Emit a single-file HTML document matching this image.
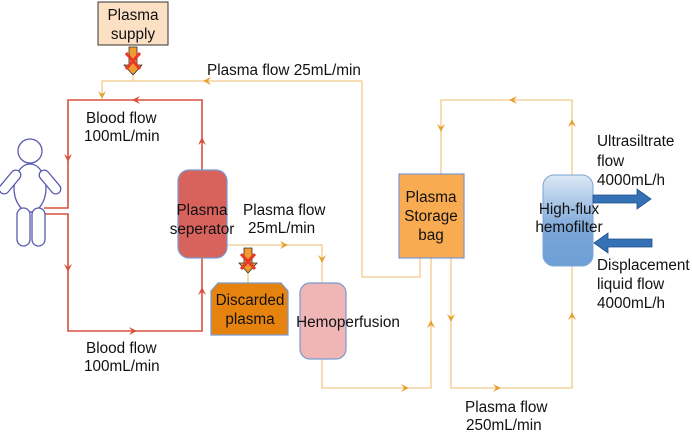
<!DOCTYPE html>
<html><head><style>body{margin:0;background:#fff}svg{display:block}text{font-family:"Liberation Sans",sans-serif;font-size:15.3px;fill:#111}</style></head><body>
<svg width="692" height="434" viewBox="0 0 692 434">
<defs>
<linearGradient id="hf" x1="0" y1="0" x2="0" y2="1"><stop offset="0" stop-color="#dce8f6"/><stop offset="0.6" stop-color="#7aa6d8"/><stop offset="1" stop-color="#6f9fd6"/></linearGradient>
</defs>
<g stroke="#f3c98a" stroke-width="1.3" fill="none">
<polyline points="133,76 133,81"/>
<polyline points="362,81 102,81 102,95"/>
<polyline points="362,81 362,277 420,277 420,258"/>
<polyline points="227,245 322,245 322,283"/>
<polyline points="248,272 248,283"/>
<polyline points="322,359 322,388 431,388 431,258"/>
<polyline points="451,258 451,388 572,388 572,266"/>
<polyline points="572,175 572,100 441,100 441,174"/>
</g>
<g fill="#e5a230">
<path d="M102,99 l-4,-8 l4,3 l4,-3z"/>
<path d="M203,81 l8,-4 l-3,4 l3,4z"/>
<path d="M288,245 l-8,-4 l3,4 l-3,4z"/>
<path d="M322,263 l-4,-8 l4,3 l4,-3z"/>
<path d="M441,132 l-4,-8 l4,3 l4,-3z"/>
<path d="M509,100 l8,-4 l-3,4 l3,4z"/>
<path d="M572,119 l-4,8 l4,-3 l4,3z"/>
<path d="M572,312 l-4,8 l4,-3 l4,3z"/>
<path d="M451,322 l-4,-8 l4,3 l4,-3z"/>
<path d="M431,320 l-4,8 l4,-3 l4,3z"/>
<path d="M501,388 l-8,-4 l3,4 l-3,4z"/>
<path d="M409,388 l-8,-4 l3,4 l-3,4z"/>
</g>
<g stroke="#d9503f" stroke-width="1.6" fill="none">
<polyline points="202,170 202,100 68,100 68,208 44,208"/>
<polyline points="44,214 68,214 68,331 202,331 202,258"/>
</g>
<g fill="#d9503f">
<path d="M68,162 l-4,-8 l4,3 l4,-3z"/>
<path d="M68,272 l-4,-8 l4,3 l4,-3z"/>
<path d="M132,100 l8,-4 l-3,4 l3,4z"/>
<path d="M137,331 l-8,-4 l3,4 l-3,4z"/>
<path d="M202,137 l-4,8 l4,-3 l4,3z"/>
<path d="M202,287 l-4,8 l4,-3 l4,3z"/>
</g>
<g stroke="#5a5ab0" stroke-width="1.3" fill="#fff">
<circle cx="30" cy="151" r="12"/>
<ellipse cx="30" cy="188" rx="16" ry="24"/>
<rect x="5" y="168" width="10" height="28" rx="5" transform="rotate(40 10 182)"/>
<rect x="45" y="168" width="10" height="28" rx="5" transform="rotate(-40 50 182)"/>
<rect x="17" y="208" width="13" height="38" rx="6.5"/>
<rect x="32" y="208" width="13" height="38" rx="6.5"/>
</g>
<rect x="98" y="2" width="70" height="43" fill="#fbe0c4" stroke="#333" stroke-width="1"/>
<text x="133" y="20" text-anchor="middle">Plasma</text>
<text x="133" y="39" text-anchor="middle">supply</text>
<path d="M129,47 h8 v18 h5 l-9,10 l-9,-10 h5z" fill="#f29a2e" stroke="#333" stroke-width="0.8"/>
<path d="M126,53 l14,16 M140,53 l-14,16" stroke="#e53a2a" stroke-width="3"/>
<path d="M244,248 h8 v15 h5 l-9,10 l-9,-10 h5z" fill="#f29a2e" stroke="#333" stroke-width="0.8"/>
<path d="M241,254 l14,15 M255,254 l-14,15" stroke="#e53a2a" stroke-width="3"/>
<rect x="178" y="170" width="49" height="88" rx="11" fill="#d8625c" stroke="#7a9ad0" stroke-width="1.2"/>
<text x="202" y="215" text-anchor="middle">Plasma</text>
<text x="202" y="234" text-anchor="middle">seperator</text>
<path d="M218,283 h63 l7,8 v44 h-77 v-44z" fill="#e6830f" stroke="#7a9ad0" stroke-width="1.2"/>
<text x="250" y="305" text-anchor="middle">Discarded</text>
<text x="250" y="324" text-anchor="middle">plasma</text>
<rect x="300" y="283" width="46" height="76" rx="10" fill="#f0b5b5" stroke="#7a9ad0" stroke-width="1.2"/>
<text x="348" y="327" text-anchor="middle">Hemoperfusion</text>
<rect x="399" y="174" width="65" height="84" fill="#f9ab52" stroke="#7a9ad0" stroke-width="1.2"/>
<text x="431" y="202" text-anchor="middle">Plasma</text>
<text x="431" y="221" text-anchor="middle">Storage</text>
<text x="431" y="240" text-anchor="middle">bag</text>
<rect x="543" y="175" width="50" height="91" rx="11" fill="url(#hf)" stroke="#7aa6d8" stroke-width="1"/>
<text x="569" y="214" text-anchor="middle">High-flux</text>
<text x="569" y="232" text-anchor="middle">hemofilter</text>
<path d="M593,195 h44 v-6 l14,10 l-14,10 v-6 h-44z" fill="#3471b5" stroke="#1e4f88" stroke-width="0.8"/>
<path d="M652,239 h-44 v-6 l-14,10 l14,10 v-6 h44z" fill="#3471b5" stroke="#1e4f88" stroke-width="0.8"/>
<text x="207" y="75">Plasma flow 25mL/min</text>
<text x="86" y="123">Blood flow</text>
<text x="84" y="141">100mL/min</text>
<text x="86" y="353">Blood flow</text>
<text x="84" y="371">100mL/min</text>
<text x="243" y="215">Plasma flow</text>
<text x="248" y="233">25mL/min</text>
<text x="465" y="412">Plasma flow</text>
<text x="466" y="430">250mL/min</text>
<text x="597" y="146">Ultrasiltrate</text>
<text x="597" y="166">flow</text>
<text x="597" y="185">4000mL/h</text>
<text x="597" y="270">Displacement</text>
<text x="597" y="289">liquid flow</text>
<text x="597" y="308">4000mL/h</text>
</svg>
</body></html>
